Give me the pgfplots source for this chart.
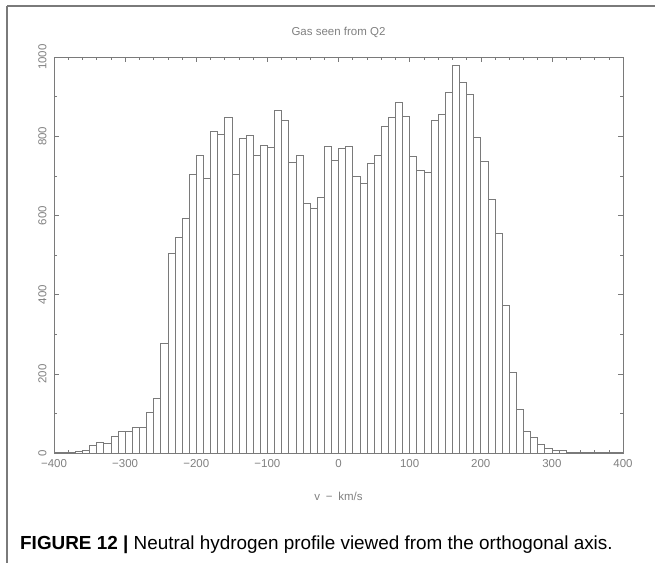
\documentclass[border=0pt]{standalone}
\usepackage{pgfplots}
\pgfplotsset{compat=1.18}
\usepackage{fontspec}
\setmainfont{Liberation Sans}
\definecolor{ax}{HTML}{7A7A7A}
\definecolor{txt}{HTML}{808080}
\begin{document}
\begin{tikzpicture}[x=1pt,y=1pt]
\path[use as bounding box] (0,0) rectangle (655,-563);
\draw[line width=1.6pt, color=ax] (7,-6) -- (655,-6);
\draw[line width=1.6pt, color=ax] (7,-6) -- (7,-563);
\begin{axis}[
  at={(54pt,-453pt)}, anchor=south west,
  width=569pt, height=396pt, scale only axis,
  xmin=-400, xmax=400, ymin=0, ymax=1000,
  axis line style={color=ax, line width=0.6pt},
  tick style={color=ax, line width=0.5pt},
  major tick length=5pt, minor tick length=3pt,
  tick align=inside, tick pos=both,
  xtick={-400,-300,...,400},
  xticklabels={−400,−300,−200,−100,0,100,200,300,400},
  minor x tick num=4,
  ytick={0,200,...,1000},
  yticklabels={0,200,400,600,800,1000},
  minor y tick num=1,
  ticklabel style={font=\fontsize{11.5}{12}\selectfont, color=txt},
  xticklabel style={yshift=-3pt},
  yticklabel style={rotate=90, anchor=south, yshift=4pt},
  title={Gas seen from Q2},
  title style={font=\fontsize{11.5}{12}\selectfont, color=txt, yshift=10pt},
  xlabel={v\,\,\,−\,\,\,km/s},
  xlabel style={font=\fontsize{11.5}{12}\selectfont, color=txt, yshift=-18pt},
]
\addplot[ybar interval, fill=white, draw=ax, line width=0.6pt] coordinates {
(-400,2) (-390,3) (-380,2) (-370,4) (-360,7) (-350,20) (-340,28) (-330,24)
(-320,43) (-310,56) (-300,55) (-290,64) (-280,66) (-270,104) (-260,139) (-250,278)
(-240,505) (-230,544) (-220,593) (-210,705) (-200,751) (-190,693) (-180,812) (-170,805)
(-160,848) (-150,705) (-140,795) (-130,803) (-120,751) (-110,777) (-100,773) (-90,866)
(-80,839) (-70,734) (-60,751) (-50,631) (-40,619) (-30,646) (-20,774) (-10,738)
(0,769) (10,774) (20,698) (30,681) (40,731) (50,751) (60,826) (70,848)
(80,885) (90,850) (100,749) (110,714) (120,709) (130,839) (140,855) (150,912)
(160,980) (170,936) (180,906) (190,798) (200,737) (210,640) (220,555) (230,373)
(240,204) (250,111) (260,56) (270,40) (280,22) (290,12) (300,8) (310,6)
(320,3) (330,2) (340,2) (350,1) (360,2) (370,1) (380,2) (390,1) (400,1)
};
\end{axis}
\node[anchor=base west, font=\fontsize{18.9}{22}\selectfont, inner sep=0pt] at (20,-549)
  {\textbf{FIGURE 12 |} Neutral hydrogen profile viewed from the orthogonal axis.};
\end{tikzpicture}
\end{document}
